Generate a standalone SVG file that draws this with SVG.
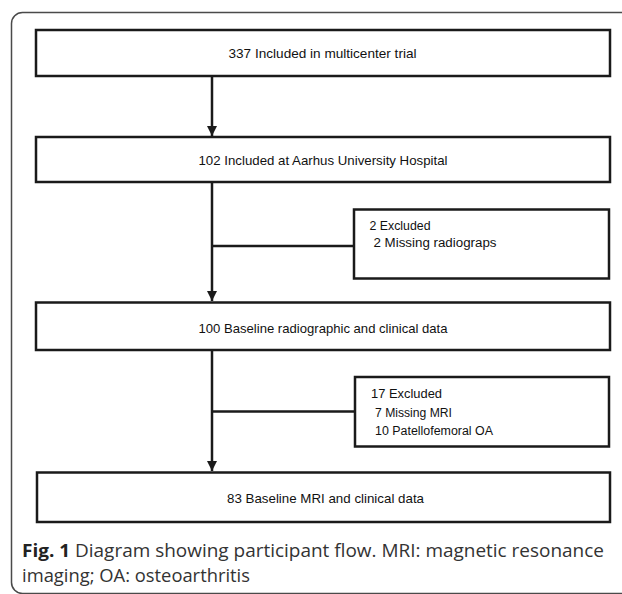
<svg xmlns="http://www.w3.org/2000/svg" width="622" height="594" viewBox="0 0 622 594">
<style>
.box{fill:#fff;stroke:#1a1a1a;stroke-width:2.5}
.t{font-family:"Liberation Sans",Arial,sans-serif;font-size:13.5px;fill:#111}
.s{font-family:"Liberation Sans",Arial,sans-serif;font-size:12.5px;fill:#111}
.c{font-family:"Open Sans","Liberation Sans",sans-serif;font-size:18px;fill:#333}
.line{fill:none;stroke:#1a1a1a;stroke-width:2.5}
</style>
<defs>
<marker id="arr" viewBox="0 0 10 10" refX="10" refY="5" markerWidth="4" markerHeight="4" orient="auto" markerUnits="strokeWidth">
<path d="M0,0 L10,5 L0,10 z" fill="#1a1a1a"/>
</marker>
</defs>
<rect width="622" height="594" fill="#fff"/>
<rect id="frame" x="11.5" y="12.5" width="640" height="581" rx="11" fill="none" stroke="#4a4a4a" stroke-width="1.5"/>
<g id="connectors">
<line class="line" x1="212" y1="76" x2="212" y2="136" marker-end="url(#arr)"/>
<line class="line" x1="212" y1="182" x2="212" y2="301" marker-end="url(#arr)"/>
<line class="line" x1="212" y1="246" x2="354" y2="246"/>
<line class="line" x1="212" y1="350" x2="212" y2="471" marker-end="url(#arr)"/>
<line class="line" x1="212" y1="411.5" x2="355" y2="411.5"/>
</g>
<g id="n1">
<rect class="box" x="36" y="30" width="574" height="46"/>
<text class="t" x="228.5" y="58" textLength="188" lengthAdjust="spacingAndGlyphs">337 Included in multicenter trial</text>
</g>
<g id="n2">
<rect class="box" x="36" y="137" width="574" height="45"/>
<text class="t" x="198.5" y="164.5" textLength="249" lengthAdjust="spacingAndGlyphs">102 Included at Aarhus University Hospital</text>
</g>
<g id="n3">
<rect class="box" x="354" y="209.5" width="255" height="69"/>
<text class="s" x="369.5" y="229.5" textLength="61" lengthAdjust="spacingAndGlyphs">2 Excluded</text>
<text class="s" x="373.5" y="246.5" textLength="123" lengthAdjust="spacingAndGlyphs">2 Missing radiograps</text>
</g>
<g id="n4">
<rect class="box" x="36" y="302.5" width="574" height="47.5"/>
<text class="t" x="198.5" y="333" textLength="249" lengthAdjust="spacingAndGlyphs">100 Baseline radiographic and clinical data</text>
</g>
<g id="n5">
<rect class="box" x="355" y="377" width="254" height="69.5"/>
<text class="s" x="371" y="398" textLength="71" lengthAdjust="spacingAndGlyphs">17 Excluded</text>
<text class="s" x="375" y="417" textLength="77" lengthAdjust="spacingAndGlyphs">7 Missing MRI</text>
<text class="s" x="375" y="435" textLength="118" lengthAdjust="spacingAndGlyphs">10 Patellofemoral OA</text>
</g>
<g id="n6">
<rect class="box" x="37" y="472.5" width="573" height="49.5"/>
<text class="t" x="227" y="502.5" textLength="197" lengthAdjust="spacingAndGlyphs">83 Baseline MRI and clinical data</text>
</g>
<g id="caption">
<text class="c" x="22" y="557" textLength="582" lengthAdjust="spacingAndGlyphs"><tspan font-weight="bold" fill="#222">Fig. 1</tspan> Diagram showing participant flow. MRI: magnetic resonance</text>
<text class="c" x="22" y="582" textLength="228" lengthAdjust="spacingAndGlyphs">imaging; OA: osteoarthritis</text>
</g>
</svg>
